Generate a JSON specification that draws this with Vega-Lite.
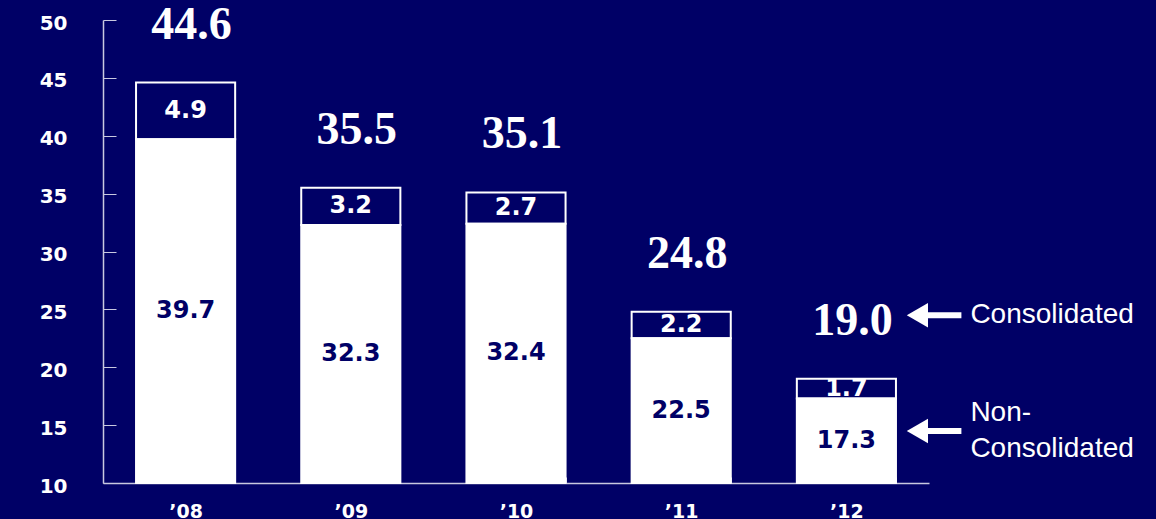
{
  "$schema": "https://vega.github.io/schema/vega-lite/v6.json",
  "background": "#000066",
  "autosize": {"type": "none"},
  "width": 826,
  "height": 463,
  "padding": {"left": 103, "top": 20, "right": 227, "bottom": 36},
  "config": {"view": {"stroke": null}},
  "data": {"values": [
    {"year": "’08", "total": 44.6, "noncons": 39.7, "diff": 4.9},
    {"year": "’09", "total": 35.5, "noncons": 32.3, "diff": 3.2},
    {"year": "’10", "total": 35.1, "noncons": 32.4, "diff": 2.7},
    {"year": "’11", "total": 24.8, "noncons": 22.5, "diff": 2.2},
    {"year": "’12", "total": 19.0, "noncons": 17.3, "diff": 1.7}
  ]},
  "transform": [
    {"calculate": "(datum.total + datum.noncons) / 2", "as": "midTop"},
    {"calculate": "(datum.noncons + 10) / 2", "as": "midBot"}
  ],
  "encoding": {
    "x": {"field": "year", "type": "nominal", "sort": null,
      "scale": {"paddingInner": 0.4, "paddingOuter": 0.2},
      "axis": {"title": null, "labelAngle": 0, "tickBand": "extent", "tickSize": -6,
        "domainColor": "#c8c8e0", "tickColor": "#c8c8e0", "domainWidth": 1.5,
        "labelPadding": 25, "labelBaseline": "top", "labelColor": "white",
        "labelFont": "DejaVu Sans", "labelFontWeight": "bold", "labelFontSize": 19}}
  },
  "layer": [
    {
      "mark": {"type": "bar", "fill": "#000066", "stroke": "white", "strokeWidth": 2},
      "encoding": {
        "y": {"field": "total", "type": "quantitative",
          "scale": {"domain": [10, 50], "nice": false, "zero": false},
          "axis": {"title": null, "values": [10, 15, 20, 25, 30, 35, 40, 45, 50], "grid": false,
            "tickSize": -13, "labelPadding": 49, "labelOffset": 3, "labelFlush": false, "labelOverlap": false,
            "domainColor": "#c8c8e0", "tickColor": "#c8c8e0", "domainWidth": 1.5,
            "labelColor": "white", "labelFont": "DejaVu Sans", "labelFontWeight": "bold", "labelFontSize": 20}},
        "y2": {"field": "noncons"}
      }
    },
    {
      "mark": {"type": "text", "color": "white", "font": "DejaVu Sans", "fontWeight": "bold", "fontSize": 24, "baseline": "middle"},
      "encoding": {
        "y": {"field": "midTop", "type": "quantitative"},
        "text": {"field": "diff", "type": "quantitative", "format": ".1f"}
      }
    },
    {
      "mark": {"type": "bar", "fill": "white", "stroke": "white", "strokeWidth": 2},
      "encoding": {
        "y": {"field": "noncons", "type": "quantitative"},
        "y2": {"datum": 10}
      }
    },
    {
      "mark": {"type": "text", "color": "#000066", "font": "DejaVu Sans", "fontWeight": "bold", "fontSize": 24, "baseline": "middle"},
      "encoding": {
        "y": {"field": "midBot", "type": "quantitative"},
        "text": {"field": "noncons", "type": "quantitative", "format": ".1f"}
      }
    },
    {
      "mark": {"type": "text", "color": "white", "font": "Liberation Serif", "fontWeight": "bold", "fontSize": 46, "baseline": "alphabetic", "dy": -44, "dx": 6},
      "encoding": {
        "y": {"field": "total", "type": "quantitative"},
        "text": {"field": "total", "type": "quantitative", "format": ".1f"}
      }
    },
    {
      "data": {"values": [{}]},
      "mark": {"type": "rule", "color": "white", "strokeWidth": 6, "xOffset": 78, "x2Offset": 115},
      "encoding": {"x": {"datum": "’12"}, "x2": {"datum": "’12"}, "y": {"datum": 24.5}}
    },
    {
      "data": {"values": [{}]},
      "mark": {"type": "point", "shape": "triangle-left", "filled": true, "color": "white", "opacity": 1, "size": 600, "xOffset": 71},
      "encoding": {"x": {"datum": "’12"}, "y": {"datum": 24.5}}
    },
    {
      "data": {"values": [{}]},
      "mark": {"type": "rule", "color": "white", "strokeWidth": 6, "xOffset": 78, "x2Offset": 115},
      "encoding": {"x": {"datum": "’12"}, "x2": {"datum": "’12"}, "y": {"datum": 14.5}}
    },
    {
      "data": {"values": [{}]},
      "mark": {"type": "point", "shape": "triangle-left", "filled": true, "color": "white", "opacity": 1, "size": 600, "xOffset": 71},
      "encoding": {"x": {"datum": "’12"}, "y": {"datum": 14.5}}
    },
    {
      "data": {"values": [{}]},
      "mark": {"type": "text", "text": "Consolidated", "color": "white", "font": "Liberation Sans", "fontSize": 28, "align": "left", "baseline": "middle", "dx": 124},
      "encoding": {"x": {"datum": "’12"}, "y": {"datum": 24.5}}
    },
    {
      "data": {"values": [{}]},
      "mark": {"type": "text", "text": "Non-\nConsolidated", "lineBreak": "\n", "lineHeight": 36, "color": "white", "font": "Liberation Sans", "fontSize": 28, "align": "left", "baseline": "middle", "dx": 124},
      "encoding": {"x": {"datum": "’12"}, "y": {"datum": 16.05}}
    }
  ]
}
